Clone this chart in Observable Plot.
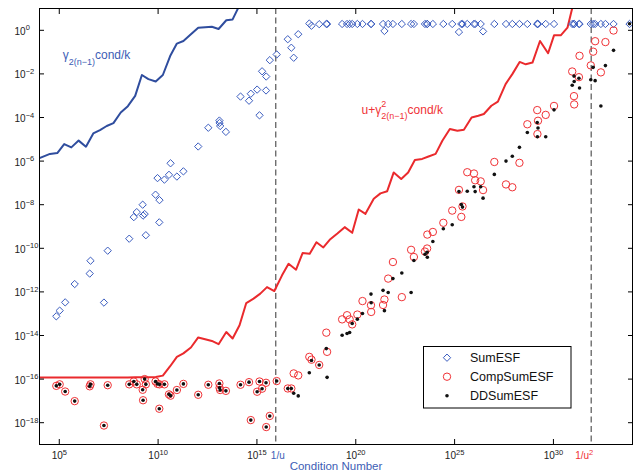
<!DOCTYPE html>
<html><head><meta charset="utf-8">
<script src="https://cdn.jsdelivr.net/npm/d3@7"></script>
<script src="https://cdn.jsdelivr.net/npm/@observablehq/plot@0.6"></script>
<style>
html,body{margin:0;padding:0;background:#fff;}
#chart svg{display:block;}
</style></head><body><div id="chart"></div>
<script>
// ---- data (log10 values) ----
const condExp = [4.85,5.02,5.30,5.78,6.54,6.58,7.26,7.45,8.54,8.77,8.92,9.22,9.24,9.32,9.38,9.87,9.97,10.06,10.07,10.32,10.55,10.63,10.95,11.28,12.03,12.54,13.10,13.11,13.14,13.43,14.17,14.60,14.69,15.01,15.13,15.26,15.46,15.47,15.65,16.00,16.56,16.74,16.86,17.09,17.65,17.76,18.15,18.51,18.55,19.31,19.56,19.69,19.82,20.08,20.34,20.77,20.78,21.38,21.45,21.64,21.88,22.33,22.80,22.94,23.50,23.61,23.62,23.90,24.43,24.88,25.22,25.34,25.40,25.64,25.98,26.04,26.32,26.44,27.01,27.60,27.92,28.28,28.68,29.18,29.19,29.22,29.61,30.03,30.95,31.04,31.05,31.29,31.32,31.89,32.01,32.11,32.40,32.63,33.04,33.85];
const sumExp = [-13.12,-12.86,-12.48,-11.64,-11.16,-10.57,-12.49,-10.11,-9.56,-8.57,-8.34,-8.00,-8.50,-8.43,-9.40,-7.54,-6.78,-8.81,-7.79,-6.85,-6.63,-6.10,-6.71,-6.47,-5.33,-4.47,-4.14,-4.25,-4.39,-4.66,-3.04,-3.23,-2.91,-2.72,-3.90,-1.88,-2.76,-2.12,-1.37,-1.11,-0.41,-0.80,-1.26,-0.18,0.31,0.21,0.28,
 0.29,0.29,0.29,0.29,0.29,0.29,0.29,0.29,0.29,0.29,0.29,-0.03,0.29,0.29,0.29,0.29,0.29,0.29,0.29,0.29,0.29,0.29,0.29,-0.08,0.29,0.29,0.29,0.29,0.29,0.29,-0.05,
 0.29,0.29,0.29,0.29,0.29,0.29,0.29,0.29,0.29,0.29,0.29,0.29,0.29,0.29,0.29,0.29,0.29,0.29,0.29,0.29,0.29,0.29];
const compExp = [-16.31,-16.24,-16.57,-17.01,-16.33,-16.24,-18.13,-16.28,-16.24,-16.11,-16.24,-16.49,-16.97,-16.00,-16.24,-16.11,-16.22,-17.36,-16.24,-16.24,-16.70,-16.76,-16.50,-16.22,-16.72,-16.26,-16.20,-16.40,-16.50,-16.54,-16.26,-16.14,-17.88,-16.58,-16.11,-16.44,-16.17,-18.20,-17.69,-16.09,
 -16.43,-16.43,-15.74,-15.83,-14.98,-15.11,-15.35,-13.87,-14.75,-13.26,-13.07,-13.26,-13.49,-13.04,-12.42,-12.61,-12.92,-12.60,-12.35,-11.39,-10.63,-12.24,-10.07,-10.40,-10.15,-10.01,-9.37,-9.25,-8.83,-8.27,-7.32,-8.56,-8.08,-6.51,-6.57,-6.88,-6.93,-7.33,-6.04,-7.07,-7.20,-6.08,-4.31,-3.66,-4.76,-4.15,-3.88,-3.47,-1.89,-3.02,-3.40,-2.15,-1.17,-1.61,-0.98,-0.50,-1.93,-0.54,-0.01,null];
const ddExp = [-16.31,-16.24,-16.57,-17.01,-16.33,-16.24,-18.13,-16.28,-16.24,-16.11,-16.24,-16.49,-16.97,-16.00,-16.24,-16.11,-16.22,-17.36,-16.24,-16.24,-16.70,-16.76,-16.50,-16.22,-16.72,-16.26,-16.20,-16.40,-16.50,-16.54,-16.26,-16.14,-17.88,-16.58,-16.11,-16.44,-16.17,-18.20,-17.69,-16.09,
 -16.43,-16.43,-16.65,-16.77,-15.71,-15.15,-15.35,-14.60,-15.92,-13.99,-13.91,-13.86,-13.45,-13.25,-12.99,-12.10,-12.50,-11.93,-12.86,-12.03,-11.39,-11.13,-12.03,-10.56,-10.27,-10.18,-10.41,-9.69,-9.10,-8.92,-7.40,-7.99,-8.11,-7.38,-7.18,-7.40,-7.18,-7.70,-6.61,-6.00,-5.78,-5.37,-4.69,-4.23,-4.88,-4.48,-4.88,-3.65,-2.52,-2.10,-2.35,-2.20,-2.65,-2.27,-1.70,-2.31,-3.47,-1.62,-0.92,0.30];

// bound curves, sampled at common condition numbers
const lineCondExp = [3.97,4.53,4.90,5.25,5.61,5.98,6.35,6.72,7.06,7.40,7.74,8.11,8.47,8.84,9.18,9.51,9.88,10.24,10.61,10.95,11.28,11.66,12.03,12.38,12.72,13.06,13.45,13.77,14.12,14.46,14.83,15.17,15.51,15.88,16.27,16.60,16.98,17.31,17.67,18.01,18.36,18.68,19.07,19.44,19.82,20.15,20.49,20.91,21.25,21.59,21.92,22.30,22.65,22.99,23.36,23.68,24.04,24.38,24.76,25.14,25.47,25.86,26.20,26.48,26.86,27.19,27.58,27.92,28.29,28.60,28.94,29.32,29.73,30.03,30.37,30.71,30.96];
const gammaExp = [-5.87,-5.67,-5.63,-5.22,-5.37,-5.06,-5.34,-4.73,-4.58,-4.39,-4.26,-3.77,-3.48,-3.01,-2.05,-2.24,-2.35,-2.05,-1.18,-0.61,-0.49,-0.18,0.12,0.14,0.16,0.06,0.46,0.50,1.15,2.2];
const boundExp = [-15.93,-15.93,-15.93,-15.93,-15.93,-15.93,-15.93,-15.93,-15.93,-15.93,-15.93,-15.93,-15.93,-15.92,-15.92,-15.91,-15.90,-15.84,-15.41,-14.98,-14.82,-14.55,-14.09,-14.17,-14.25,-14.40,-13.84,-14.14,-13.53,-12.51,-12.31,-12.08,-11.78,-11.96,-11.24,-10.71,-10.98,-10.22,-10.25,-9.72,-9.96,-9.61,-9.32,-9.03,-9.29,-8.22,-8.42,-7.73,-7.48,-7.38,-6.52,-6.82,-6.52,-5.95,-5.90,-5.79,-5.67,-5.07,-4.53,-4.61,-4.56,-4.00,-3.92,-3.84,-3.46,-3.27,-2.47,-2.01,-1.45,-1.56,-1.48,-0.49,-1.05,-0.23,-0.23,0.12,1.05];

const xTickExp = [5,10,15,20,25,30];
const yTickExp = [0,-2,-4,-6,-8,-10,-12,-14,-16,-18];
const seriesNames = ["SumESF","CompSumESF","DDSumESF"];
const u = Math.pow(2,-53);

// ---- build tables ----
const p10 = e => Math.pow(10, e);
const tests = condExp.map((c,i) => ({cond: p10(c), sum: p10(sumExp[i]), comp: compExp[i] == null ? null : p10(compExp[i]), dd: p10(ddExp[i])}));
const gammaRows = gammaExp.map((v,i) => ({cond: p10(lineCondExp[i]), v: p10(v)}));
const boundRows = boundExp.map((v,i) => ({cond: p10(lineCondExp[i]), v: p10(v)}));
const xTicks = xTickExp.map(p10);
const yTicks = yTickExp.map(p10);
const expStr = e => String(e).replace("-", "\u2212");

const FONT = "'Liberation Sans', Arial, Helvetica, sans-serif";
const BLUE = "#3a5cbf", BLUE_LINE = "#2f4d9e", RED = "#f03236", RED_LINE = "#ea2a2d", TXT_BLUE = "#3d5db5";

const plot = Plot.plot({
  width: 633, height: 476,
  marginLeft: 39, marginRight: 1, marginTop: 8, marginBottom: 32,
  style: {fontFamily: FONT, background: "#fff", color: "#000", overflow: "visible"},
  x: {type: "log", domain: [1e4, 1e34], axis: null},
  y: {type: "log", domain: [1e-19, 1e1], axis: null},
  marks: [
    Plot.ruleX([1/u, 1/(u*u)], {stroke: "#333", strokeWidth: 1, strokeDasharray: "6,3.5"}),
    Plot.line(gammaRows, {x: "cond", y: "v", stroke: BLUE_LINE, strokeWidth: 2, clip: true}),
    Plot.line(boundRows, {x: "cond", y: "v", stroke: RED_LINE, strokeWidth: 2, clip: true}),
    Plot.dot(tests, {x: "cond", y: "sum", symbol: "diamond2", r: 3.3, stroke: BLUE, strokeWidth: 1, fill: "none", clip: true}),
    Plot.dot(tests.filter(d => d.comp != null), {x: "cond", y: "comp", r: 3.7, stroke: RED, strokeWidth: 1, fill: "none", clip: true}),
    Plot.dot(tests, {x: "cond", y: "dd", r: 1.8, fill: "#111", stroke: null, clip: true}),
    Plot.frame({stroke: "#000", strokeWidth: 1}),
    Plot.axisX({ticks: xTicks, anchor: "bottom", tickSize: -5, tickFormat: () => "", label: null}),
    Plot.axisX({ticks: xTicks, anchor: "top", tickSize: -5, tickFormat: () => "", label: null}),
    Plot.axisY({ticks: yTicks, anchor: "left", tickSize: -5, tickFormat: () => "", label: null}),
    Plot.axisY({ticks: yTicks, anchor: "right", tickSize: -5, tickFormat: () => "", label: null}),
    Plot.text(yTickExp, {y: d => p10(d), text: d => "10^" + expStr(d), frameAnchor: "left", dx: -25, dy: 1.3, textAnchor: "start", fontSize: 10, fill: "#222"}),
    Plot.text(xTickExp, {x: d => p10(d), text: d => "10^" + expStr(d), frameAnchor: "bottom", dy: 14.5, fontSize: 10, fill: "#222"}),
    Plot.text([1/u], {x: d => d, text: () => "1/u", frameAnchor: "bottom", dy: 14.5, dx: 2, fontSize: 10, fill: TXT_BLUE}),
    Plot.text([1/(u*u)], {x: d => d, text: () => "1/u^2", frameAnchor: "bottom", dy: 14.5, dx: -7, fontSize: 10, fill: RED}),
    Plot.text(["Condition Number"], {frameAnchor: "bottom", dy: 25.8, fontSize: 11.5, fill: TXT_BLUE})
  ]
});
document.getElementById("chart").appendChild(plot);

const svg = d3.select(plot);
// superscripts in tick labels
svg.selectAll("text").each(function() {
  const t = this.textContent;
  if (!t.includes("^")) return;
  const [b, s] = t.split("^");
  const sel = d3.select(this);
  sel.text(null);
  sel.append("tspan").text(b);
  sel.append("tspan").attr("dy", -4.5).attr("font-size", 7.5).text(s);
});

const sx = plot.scale("x"), sy = plot.scale("y");
// rich annotation labels
function rich(x0, y0, parts, color) {
  const g = svg.append("g").attr("fill", color).attr("font-family", FONT).attr("text-anchor", "start");
  let cx = x0, lastStart = x0, lastEnd = x0;
  for (const p of parts) {
    const start = p.under ? lastStart : cx;
    const el = g.append("text").attr("x", start).attr("y", y0 + (p.dy || 0)).attr("font-size", p.size).attr("text-anchor", "start").text(p.t);
    const w = el.node().getComputedTextLength();
    if (p.under) { cx = Math.max(lastEnd, start + w); }
    else { lastStart = start; lastEnd = start + w; cx = start + w; }
  }
}
rich(sx.apply(p10(5.2)), sy.apply(p10(-1.33)), [
  {t: "\u03b3", size: 12}, {t: "2(n\u22121)", size: 9, dy: 6.5}, {t: "cond/k", size: 12}
], TXT_BLUE);
rich(sx.apply(p10(20.32)), sy.apply(p10(-3.84)), [
  {t: "u+\u03b3", size: 12}, {t: "2", size: 9, dy: -6.6}, {t: "2(n\u22121)", size: 9, dy: 5.5, under: true}, {t: "cond/k", size: 12}
], RED);

// legend
const lg = svg.append("g").attr("font-family", FONT).attr("text-anchor", "start");
lg.append("rect").attr("x", 423.5).attr("y", 346.5).attr("width", 147.5).attr("height", 61.5).attr("fill", "#fff").attr("stroke", "#000");
const entries = [
  {name: seriesNames[0], sym: d3.symbolDiamond2, r: 3.3, stroke: BLUE, fill: "none"},
  {name: seriesNames[1], sym: d3.symbolCircle, r: 3.7, stroke: RED, fill: "none"},
  {name: seriesNames[2], sym: d3.symbolCircle, r: 1.8, stroke: "none", fill: "#111"}
];
entries.forEach((e, i) => {
  const cy = 357.7 + i * 19;
  lg.append("path").attr("transform", `translate(447,${cy})`).attr("d", d3.symbol(e.sym, Math.PI * e.r * e.r)())
    .attr("fill", e.fill).attr("stroke", e.stroke).attr("stroke-width", 1);
  lg.append("text").attr("x", 470).attr("y", cy + 4.6).attr("font-size", 12.5).attr("fill", "#111").attr("text-anchor", "start").text(e.name);
});
</script>
</body></html>
